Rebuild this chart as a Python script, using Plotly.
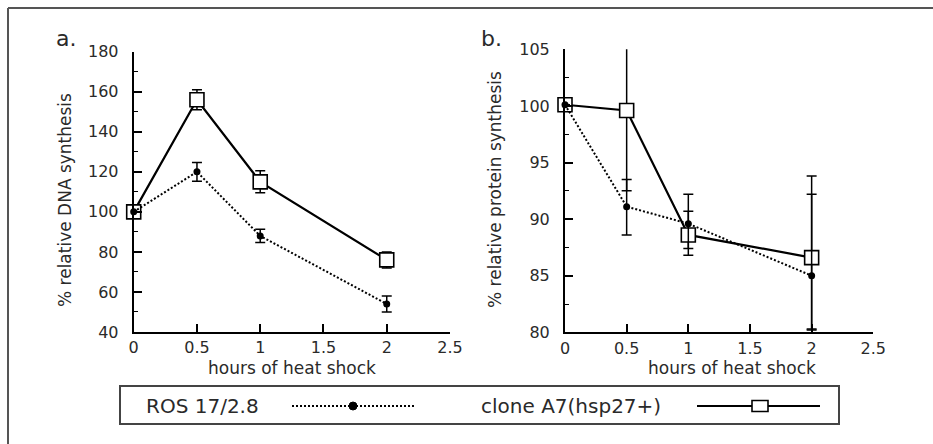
import plotly.graph_objects as go

W, H = 933, 444

hours = [0, 0.5, 1, 2]

# panel a: % relative DNA synthesis
dna_ros = [100, 120, 88, 54]
dna_ros_err = [0, 4.7, 3.3, 4]
dna_clone = [100, 156, 115, 76]
dna_clone_err = [0, 5, 5.5, 4]

# panel b: % relative protein synthesis
prot_ros = [100.1, 91.1, 89.6, 85.0]
prot_ros_plus = [0, 2.4, 2.6, 7.2]
prot_ros_minus = [0, 2.5, 2.2, 4.8]
prot_clone = [100.1, 99.6, 88.6, 86.6]
prot_clone_plus = [0, 6.2, 2.1, 7.2]
prot_clone_minus = [0, 7.1, 1.8, 6.3]

x_ticks = [0, 0.5, 1, 1.5, 2, 2.5]
x_ticklabels = ["0", "0.5", "1", "1.5", "2", "2.5"]

series_names = ["ROS 17/2.8", "clone A7(hsp27+)"]

FONT = "DejaVu Sans"
TXT = "#2a2a2a"

def px(x):
    return x / W

def py(y):
    return 1 - y / H

fig = go.Figure()

def add_ros(x, y, xa, ya, plus, minus):
    fig.add_trace(go.Scatter(
        x=x, y=y, xaxis=xa, yaxis=ya, mode="lines+markers",
        name=series_names[0], showlegend=False, cliponaxis=False,
        line=dict(color="black", width=2, dash="2px,2px"),
        marker=dict(symbol="circle", size=7, color="black"),
        error_y=dict(type="data", array=plus, arrayminus=minus, symmetric=False,
                     color="black", thickness=1.5, width=5),
    ))

def add_clone(x, y, xa, ya, plus, minus):
    fig.add_trace(go.Scatter(
        x=x, y=y, xaxis=xa, yaxis=ya, mode="lines+markers",
        name=series_names[1], showlegend=False, cliponaxis=False,
        line=dict(color="black", width=2.2),
        marker=dict(symbol="square", size=14, color="white",
                    line=dict(color="black", width=1.6)),
        error_y=dict(type="data", array=plus, arrayminus=minus, symmetric=False,
                     color="black", thickness=1.5, width=5),
    ))

add_clone(hours, dna_clone, "x", "y", dna_clone_err, dna_clone_err)
add_ros(hours, dna_ros, "x", "y", dna_ros_err, dna_ros_err)
add_clone(hours, prot_clone, "x2", "y2", prot_clone_plus, prot_clone_minus)
add_ros(hours, prot_ros, "x2", "y2", prot_ros_plus, prot_ros_minus)

axis_common = dict(
    showline=True, linecolor="black", linewidth=2, showgrid=False, zeroline=False,
    ticks="inside", ticklen=8, tickwidth=1.5, tickcolor="black",
    tickfont=dict(family=FONT, size=16, color=TXT), automargin=False,
)

xa = dict(axis_common, range=[0, 2.5], tickvals=x_ticks, ticktext=x_ticklabels)

fig.update_layout(
    width=W, height=H, margin=dict(l=0, r=0, t=0, b=0),
    paper_bgcolor="white", plot_bgcolor="white", showlegend=False,
    xaxis=dict(xa, domain=[px(133.7), px(450)], anchor="y"),
    yaxis=dict(axis_common, domain=[py(332), py(51.7)], anchor="x",
               range=[40, 180], dtick=20, tick0=40, ticklabelstandoff=10,
               minor=dict(ticks="inside", ticklen=4, tickwidth=1.2, tickcolor="black", dtick=10)),
    xaxis2=dict(xa, domain=[px(565), px(873.3)], anchor="y2"),
    yaxis2=dict(axis_common, domain=[py(332.3), py(49.3)], anchor="x2",
                range=[80, 105], dtick=5, tick0=80, ticklabelstandoff=10,
                minor=dict(ticks="inside", ticklen=4, tickwidth=1.2, tickcolor="black", dtick=2.5)),
)

ann = []
def text(x, y, s, size, angle=0, xanchor="center"):
    ann.append(dict(x=px(x), y=py(y), xref="paper", yref="paper", text=s,
                    showarrow=False, textangle=angle, xanchor=xanchor, yanchor="middle",
                    font=dict(family=FONT, size=size, color=TXT)))

text(292, 368, "hours of heat shock", 17)
text(732, 368, "hours of heat shock", 17)
text(65, 200, "% relative DNA synthesis", 17, angle=-90)
text(495, 190, "% relative protein synthesis", 17, angle=-90)
text(54, 38, "a.", 22, xanchor="left")
text(479, 38, "b.", 22, xanchor="left")
text(144, 406, series_names[0], 20, xanchor="left")
text(479, 406, series_names[1], 20, xanchor="left")
fig.update_layout(annotations=ann)

shapes = [
    # outer frame (top and left)
    dict(type="line", xref="paper", yref="paper", x0=px(8), x1=px(933), y0=py(8), y1=py(8),
         line=dict(color="#555555", width=2)),
    dict(type="line", xref="paper", yref="paper", x0=px(8), x1=px(8), y0=py(8), y1=py(444),
         line=dict(color="#555555", width=2)),
    # legend box
    dict(type="rect", xref="paper", yref="paper", x0=px(120), x1=px(839), y0=py(424), y1=py(386),
         line=dict(color="#444444", width=2), fillcolor="rgba(0,0,0,0)"),
    # legend sample ROS
    dict(type="line", xref="paper", yref="paper", x0=px(292), x1=px(414), y0=py(406), y1=py(406),
         line=dict(color="black", width=2, dash="2px,2px")),
    dict(type="circle", xref="paper", yref="paper", x0=px(349), x1=px(357), y0=py(410), y1=py(402),
         line=dict(color="black", width=1), fillcolor="black"),
    # legend sample clone
    dict(type="line", xref="paper", yref="paper", x0=px(697), x1=px(820), y0=py(406), y1=py(406),
         line=dict(color="black", width=2.2)),
    dict(type="rect", xref="paper", yref="paper", x0=px(752), x1=px(768), y0=py(411.5), y1=py(400.5),
         line=dict(color="black", width=1.6), fillcolor="white"),
]
fig.update_layout(shapes=shapes)

fig.write_html("out.html", config={"displayModeBar": False},
               post_script="document.body.style.margin='0';document.body.style.padding='0';")
